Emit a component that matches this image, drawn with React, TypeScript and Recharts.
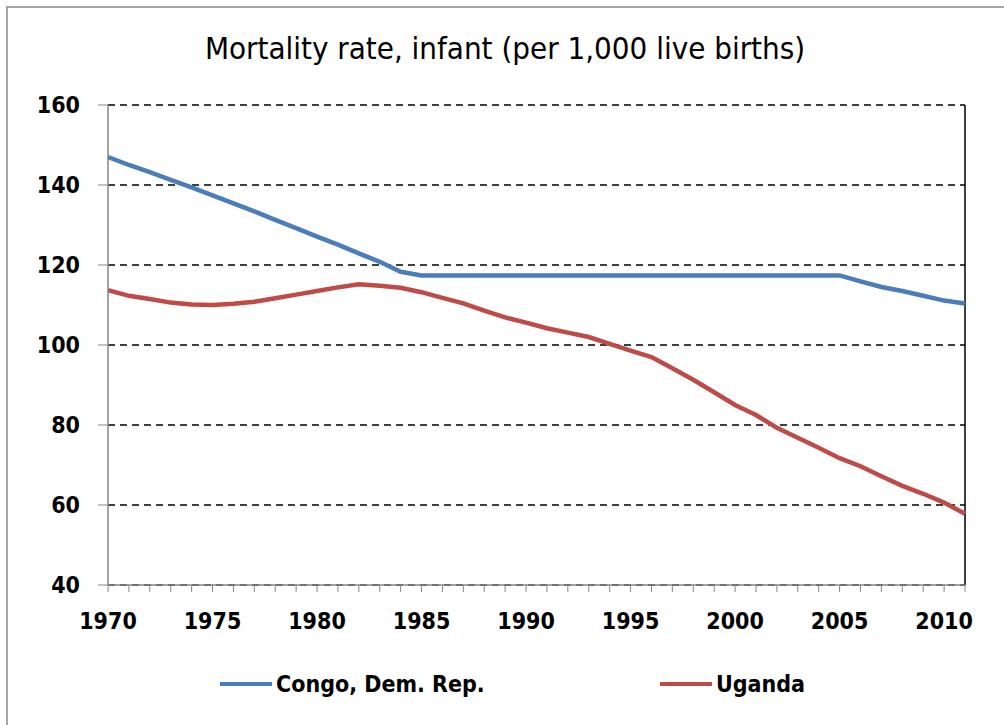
import React from 'react';
import { LineChart, Line, XAxis, YAxis, CartesianGrid, Legend, ReferenceLine } from 'recharts';

const years = [
  1970, 1971, 1972, 1973, 1974, 1975, 1976, 1977, 1978, 1979,
  1980, 1981, 1982, 1983, 1984, 1985, 1986, 1987, 1988, 1989,
  1990, 1991, 1992, 1993, 1994, 1995, 1996, 1997, 1998, 1999,
  2000, 2001, 2002, 2003, 2004, 2005, 2006, 2007, 2008, 2009,
  2010, 2011,
];

const congo = [
  147.0, 145.0, 143.2, 141.3, 139.4, 137.4, 135.4, 133.4, 131.3, 129.2,
  127.1, 125.1, 122.9, 120.8, 118.3, 117.4, 117.4, 117.4, 117.4, 117.4,
  117.4, 117.4, 117.4, 117.4, 117.4, 117.4, 117.4, 117.4, 117.4, 117.4,
  117.4, 117.4, 117.4, 117.4, 117.4, 117.4, 115.9, 114.5, 113.5, 112.3,
  111.1, 110.4,
];

const uganda = [
  113.7, 112.3, 111.5, 110.6, 110.1, 110.0, 110.3, 110.8, 111.7, 112.6,
  113.5, 114.4, 115.2, 114.8, 114.3, 113.2, 111.8, 110.4, 108.6, 106.9,
  105.6, 104.2, 103.1, 102.0, 100.3, 98.6, 97.0, 94.2, 91.3, 88.2,
  85.0, 82.5, 79.3, 76.8, 74.3, 71.7, 69.7, 67.2, 64.8, 62.8,
  60.6, 57.8,
];

const yTicks = [40, 60, 80, 100, 120, 140, 160];
const seriesNames = ['Congo, Dem. Rep.', 'Uganda'];
const seriesColors = ['#4A7EBB', '#BE4B48'];
const title = 'Mortality rate, infant (per 1,000 live births)';

const data = years.map((y, i) => ({ year: y, congo: congo[i], uganda: uganda[i] }));

const FONT = '"DejaVu Sans Condensed", "DejaVu Sans", sans-serif';

const LegendContent = (props: any) => {
  const payload = props.payload || [];
  const lefts = [220, 660];
  return (
    <div style={{ position: 'relative', width: 1004, height: 80 }}>
      {payload.map((p: any, i: number) => (
        <div
          key={p.value}
          style={{
            position: 'absolute',
            left: lefts[i],
            top: 26,
            display: 'flex',
            alignItems: 'center',
            fontFamily: FONT,
            fontWeight: 'bold',
            fontSize: 23,
            color: '#000',
            whiteSpace: 'nowrap',
          }}
        >
          <span style={{ display: 'inline-block', width: 52, height: 4, background: p.color, marginRight: 4 }} />
          <span>{p.value}</span>
        </div>
      ))}
    </div>
  );
};

export default function App() {
  return (
    <div style={{ position: 'absolute', left: 0, top: 0, width: 1004, height: 725, background: '#fff', overflow: 'hidden' }}>
      <div
        style={{
          position: 'absolute',
          left: 6,
          top: 6,
          width: 1020,
          height: 740,
          border: '2px solid #a6a6a6',
          boxSizing: 'border-box',
        }}
      />
      <div
        style={{
          position: 'absolute',
          left: 0,
          top: 30,
          width: 1010,
          textAlign: 'center',
          fontFamily: FONT,
          fontSize: 31,
          color: '#000',
        }}
      >
        {title}
      </div>
      <div style={{ position: 'absolute', left: 0, top: 0 }}>
        <LineChart width={1004} height={725} data={data} margin={{ top: 105, right: 39, left: 0, bottom: 0 }}>
          <CartesianGrid vertical={false} stroke="#000" strokeDasharray="7 5" strokeWidth={1.5} />
          <XAxis
            dataKey="year"
            type="category"
            interval={0}
            height={60}
            tickSize={7}
            tickMargin={21}
            stroke="#868686"
            tickLine={{ stroke: '#868686' }}
            axisLine={{ stroke: '#868686', strokeWidth: 1.5 }}
            tick={{ fill: '#000', fontFamily: FONT, fontWeight: 'bold', fontSize: 23 }}
            tickFormatter={(v: number) => (v % 5 === 0 ? String(v) : '')}
          />
          <YAxis
            domain={[40, 160]}
            ticks={yTicks}
            width={108}
            tickSize={10}
            tickMargin={18}
            stroke="#868686"
            axisLine={{ stroke: '#868686', strokeWidth: 1.5 }}
            tick={{ fill: '#000', fontFamily: FONT, fontWeight: 'bold', fontSize: 23 }}
            allowDataOverflow
          />
          <ReferenceLine x={2011} stroke="#000" strokeWidth={1.5} />
          <Line
            type="linear"
            dataKey="congo"
            name={seriesNames[0]}
            stroke={seriesColors[0]}
            strokeWidth={4.5}
            dot={false}
            isAnimationActive={false}
          />
          <Line
            type="linear"
            dataKey="uganda"
            name={seriesNames[1]}
            stroke={seriesColors[1]}
            strokeWidth={4.5}
            dot={false}
            isAnimationActive={false}
          />
          <Legend verticalAlign="bottom" height={80} content={<LegendContent />} />
        </LineChart>
      </div>
    </div>
  );
}
